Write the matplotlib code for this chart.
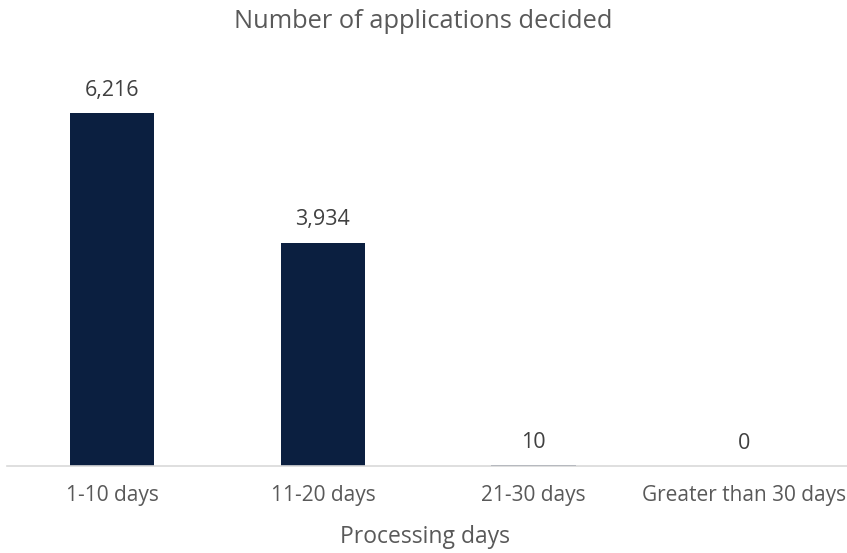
import matplotlib
matplotlib.use("Agg")
import matplotlib.pyplot as plt

categories = ["1-10 days", "11-20 days", "21-30 days", "Greater than 30 days"]
values = [6216, 3934, 10, 0]
title = "Number of applications decided"
xlabel = "Processing days"

plt.rcParams['font.family'] = ['Open Sans', 'DejaVu Sans']

W, H = 847, 553
fig = plt.figure(figsize=(W/100, H/100), dpi=100)
ax = fig.add_axes([6.75/W, (H-466)/H, 843/W, 397.5/H])
x = list(range(len(categories)))
ax.bar(x, values, width=0.40, color="#0B1F40", zorder=2)
ax.set_xlim(-0.5, 3.5)
ax.set_ylim(0, 7000)
for xi, v in zip(x, values):
    ax.annotate(f"{v:,}", xy=(xi, v), xytext=(0, 12.5), textcoords="offset points",
                ha="center", va="baseline", fontsize=15.5, color="#404040")
for s in ["top", "right", "left"]:
    ax.spines[s].set_visible(False)
ax.spines["bottom"].set_color("#D9D9D9")
ax.spines["bottom"].set_linewidth(1.2)
ax.set_yticks([])
ax.set_xticks(x)
ax.set_xticklabels(categories, fontsize=15, color="#595959")
ax.tick_params(axis="x", length=0, pad=14)
fig.text(0.5 + 1/W, 1 - 543/H, xlabel, ha="center", va="baseline", fontsize=16.5, color="#595959")
fig.text(0.5, 1 - 28/H, title, ha="center", va="baseline", fontsize=18.3, color="#595959")
fig.savefig("out.png", dpi=100)
